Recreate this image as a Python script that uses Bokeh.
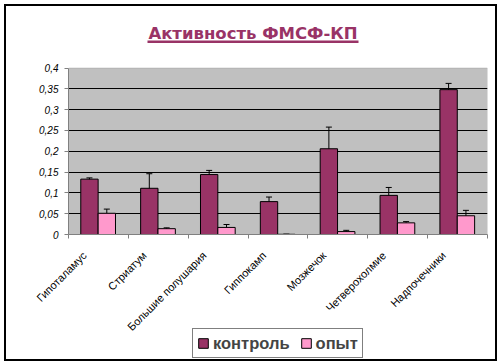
import numpy as np
from bokeh.plotting import figure
from bokeh.layouts import column
from bokeh.models import (ColumnDataSource, FixedTicker, Whisker, TeeHead, Legend,
                          LegendItem, Label, BoxAnnotation)
from bokeh.embed import file_html
from bokeh.resources import INLINE

title_text = "Активность ФМСФ-КП"
categories = ["Гипоталамус", "Стриатум", "Большие полушария", "Гиппокамп",
              "Мозжечок", "Четверохолмие", "Надпочечники"]
control = [0.133, 0.111, 0.144, 0.079, 0.206, 0.094, 0.348]
control_err = [0.003, 0.035, 0.010, 0.011, 0.052, 0.019, 0.015]
opyt = [0.051, 0.014, 0.017, 0.0005, 0.007, 0.028, 0.045]
opyt_err = [0.010, 0.002, 0.007, 0.0, 0.003, 0.003, 0.013]
series_names = ["контроль", "опыт"]
y_ticks = [0, 0.05, 0.1, 0.15, 0.2, 0.25, 0.3, 0.35, 0.4]
y_labels = ["0", "0,05", "0,1", "0,15", "0,2", "0,25", "0,3", "0,35", "0,4"]
y_max = 0.4

C1 = "#993366"
C2 = "#FF99CC"

# inner content box (inside the 2px page border that starts at x=y=4)
OX, OY = 6, 6
W = 489
INNER_H = 353
FRAME_L, FRAME_R, FRAME_T, FRAME_B = 68, 487, 6, 234   # page pixels
AREA_TOP = 67.5                                         # page row of y_max
LEG_TOP = 328                                           # page row where legend strip starts
FB = 115                                                # generous room for rotated labels
H1 = (FRAME_B - OY) + FB
H2 = OY + INNER_H - LEG_TOP

n = len(categories)
xc = np.arange(n) + 0.5
d1, d2, bw = -0.15, 0.14, 0.29
src = ColumnDataSource(dict(
    x1=xc + d1, x2=xc + d2,
    c=control, o=opyt,
    cu=np.array(control) + np.array(control_err), cl=np.array(control) - np.array(control_err),
    ou=np.array(opyt) + np.array(opyt_err), ol=np.array(opyt) - np.array(opyt_err),
))

y_end = y_max * (FRAME_B - FRAME_T) / (FRAME_B - AREA_TOP)

p = figure(width=W, height=H1, x_range=(0, n), y_range=(0, y_end),
           output_backend="svg", toolbar_location=None,
           min_border_left=FRAME_L - OX, min_border_right=W - (FRAME_R - OX),
           min_border_top=FRAME_T - OY, min_border_bottom=FB,
           background_fill_color="white", border_fill_color="white")
p.outline_line_color = None

# grey plotting area
p.add_layout(BoxAnnotation(bottom=0, top=y_max, fill_color="#C0C0C0", fill_alpha=1,
                           line_color="#808080", line_width=1, level="image"))

p.xgrid.visible = False
p.ygrid.grid_line_color = "black"
p.ygrid.ticker = FixedTicker(ticks=y_ticks[1:-1])

r1 = p.vbar(x="x1", top="c", width=bw, source=src, fill_color=C1, line_color="black", line_width=1)
r2 = p.vbar(x="x2", top="o", width=bw, source=src, fill_color=C2, line_color="black", line_width=1)

for base, up, lo in [("x1", "cu", "cl"), ("x2", "ou", "ol")]:
    w = Whisker(source=src, base=base, upper=up, lower=lo, dimension="height",
                line_color="black", line_width=1,
                upper_head=TeeHead(size=6, line_color="black", line_width=1),
                lower_head=TeeHead(size=6, line_color="black", line_width=1))
    p.add_layout(w)

# axes
p.yaxis.bounds = (0, y_max)
p.yaxis.ticker = FixedTicker(ticks=y_ticks)
p.yaxis.major_label_overrides = {t: l for t, l in zip(y_ticks, y_labels)}
p.yaxis.major_label_text_font = "Liberation Sans"
p.yaxis.major_label_text_font_style = "italic"
p.yaxis.major_label_text_font_size = "10px"
p.yaxis.major_label_text_color = "black"
p.yaxis.major_tick_out = 4
p.yaxis.major_tick_in = 0
p.yaxis.minor_tick_out = 0
p.yaxis.minor_tick_in = 0
p.yaxis.axis_line_color = "#808080"
p.yaxis.major_tick_line_color = "#808080"
p.yaxis.major_label_standoff = 6

label_pos = xc - 0.23
p.xaxis.ticker = FixedTicker(ticks=list(label_pos), minor_ticks=list(range(n + 1)))
p.xaxis.major_label_overrides = {float(t): l for t, l in zip(label_pos, categories)}
p.xaxis.major_label_orientation = np.pi / 4
p.xaxis.major_label_text_font = "Liberation Sans"
p.xaxis.major_label_text_font_size = "11px"
p.xaxis.major_label_text_color = "black"
p.xaxis.major_tick_out = 0
p.xaxis.major_tick_in = 0
p.xaxis.minor_tick_out = 4
p.xaxis.minor_tick_in = 0
p.xaxis.minor_tick_line_color = "#808080"
p.xaxis.axis_line_color = "#808080"
p.xaxis.major_label_standoff = 15

# title (inside the frame, above the plotting area); screen units are from the frame's bottom-left
p.add_layout(Label(x=252.5 - FRAME_L, y=FRAME_B - 33, x_units="screen", y_units="screen",
                   text=title_text, text_align="center", text_baseline="alphabetic",
                   text_font="DejaVu Sans", text_font_style="bold", text_font_size="16.5px",
                   text_color=C1))
p.add_layout(BoxAnnotation(left=147 - FRAME_L, right=358 - FRAME_L,
                           top=FRAME_B - 40, bottom=FRAME_B - 42.5,
                           left_units="screen", right_units="screen", top_units="screen",
                           bottom_units="screen", fill_color=C1, fill_alpha=1, line_alpha=0))

# legend strip (overlaps the empty bottom of the main figure)
pl = figure(width=W, height=H2, x_range=(0, 1), y_range=(0, 1),
            output_backend="svg", toolbar_location=None,
            min_border=0, x_axis_location=None, y_axis_location=None,
            background_fill_alpha=0, border_fill_alpha=0,
            margin=(-(OY + H1 - LEG_TOP), 0, 0, 0))
pl.outline_line_color = None
pl.grid.visible = False
proxy = ColumnDataSource(dict(x=[-1.0], top=[0.0]))
l1 = pl.vbar(x="x", top="top", width=0.1, source=proxy, fill_color=C1, line_color="black")
l2 = pl.vbar(x="x", top="top", width=0.1, source=proxy, fill_color=C2, line_color="black")
legend = Legend(items=[LegendItem(label=series_names[0], renderers=[l1]),
                       LegendItem(label=series_names[1], renderers=[l2])],
                orientation="horizontal", location=(192 - FRAME_L, (OY + INNER_H) - 358))
legend.label_text_font = "Liberation Sans"
legend.label_text_font_style = "bold"
legend.label_text_font_size = "16.5px"
legend.label_height = 20
legend.glyph_width = 12
legend.glyph_height = 12
legend.label_standoff = 4
legend.spacing = 10
legend.padding = 4
legend.margin = 0
legend.border_line_color = "black"
legend.border_line_width = 1
legend.background_fill_color = "white"
legend.background_fill_alpha = 1
pl.add_layout(legend, "center")

lay = column(p, pl, spacing=0, margin=(4, 0, 0, 4),
             styles={"border": "2px solid black"})

open("out.html", "w").write(file_html(lay, INLINE))
